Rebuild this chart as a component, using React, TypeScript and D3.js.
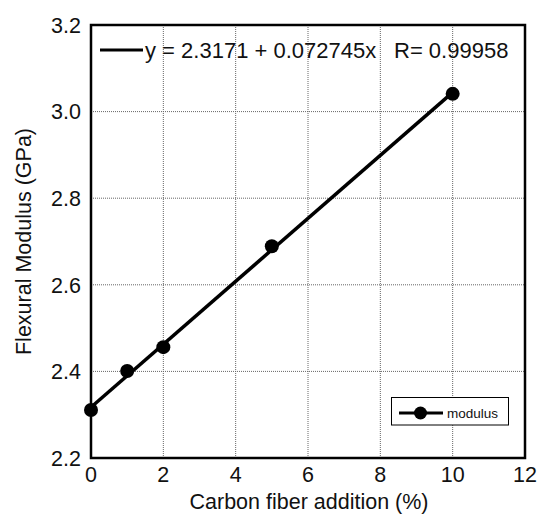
import React from "react";
import * as d3 from "d3";

const carbonFiber = [0, 1, 2, 5, 10];
const modulus = [2.311, 2.401, 2.456, 2.689, 3.041];
const xTicks = [0, 2, 4, 6, 8, 10, 12];
const yTicks = [2.2, 2.4, 2.6, 2.8, 3.0, 3.2];
const fitIntercept = 2.3171;
const fitSlope = 0.072745;
const fitLabel = "y = 2.3171 + 0.072745x";
const rLabel = "R= 0.99958";
const seriesName = "modulus";
const xTitle = "Carbon fiber addition (%)";
const yTitle = "Flexural Modulus (GPa)";

const W = 540;
const H = 515;
const M = { left: 91, right: 525, top: 25, bottom: 458 };
const FONT = "'Liberation Sans', Arial, sans-serif";

export default function App() {
  const x = d3.scaleLinear().domain([0, 12]).range([M.left, M.right]);
  const y = d3.scaleLinear().domain([2.2, 3.2]).range([M.bottom, M.top]);
  const pts = carbonFiber.map((c, i) => [c, modulus[i]] as [number, number]);
  const line = d3
    .line<[number, number]>()
    .x((d) => x(d[0]))
    .y((d) => y(d[1]));
  const fitPts: [number, number][] = [0, 10].map((c) => [c, fitIntercept + fitSlope * c]);

  return (
    <svg
      width={W}
      height={H}
      style={{ position: "absolute", left: 0, top: 0, background: "#fff" }}
      fontFamily={FONT}
    >
      <rect x={0} y={0} width={W} height={H} fill="#fff" />
      {xTicks.slice(1, -1).map((t) => (
        <line
          key={"gx" + t}
          x1={x(t)}
          x2={x(t)}
          y1={M.top}
          y2={M.bottom}
          stroke="#666"
          strokeWidth={1}
          strokeDasharray="1,1"
        />
      ))}
      {yTicks.slice(1, -1).map((t) => (
        <line
          key={"gy" + t}
          x1={M.left}
          x2={M.right}
          y1={y(t)}
          y2={y(t)}
          stroke="#666"
          strokeWidth={1}
          strokeDasharray="1,1"
        />
      ))}
      <path d={line(fitPts) || ""} fill="none" stroke="#000" strokeWidth={3.5} />
      {pts.map((p, i) => (
        <circle key={i} cx={x(p[0])} cy={y(p[1])} r={7} fill="#000" />
      ))}
      <rect
        x={M.left}
        y={M.top}
        width={M.right - M.left}
        height={M.bottom - M.top}
        fill="none"
        stroke="#000"
        strokeWidth={2.5}
      />
      {xTicks.map((t) => (
        <text key={"xt" + t} x={x(t)} y={482} fontSize={21.5} textAnchor="middle" fill="#111">
          {t}
        </text>
      ))}
      {yTicks.map((t) => (
        <text
          key={"yt" + t}
          x={81}
          y={y(t)}
          dy="0.36em"
          fontSize={21.5}
          textAnchor="end"
          fill="#111"
        >
          {t.toFixed(1)}
        </text>
      ))}
      <text x={(M.left + M.right) / 2 + 1} y={509} fontSize={21.5} textAnchor="middle" fill="#111">
        {xTitle}
      </text>
      <text
        transform={`translate(31, ${(M.top + M.bottom) / 2}) rotate(-90)`}
        fontSize={21.5}
        textAnchor="middle"
        fill="#111"
      >
        {yTitle}
      </text>
      <line x1={100} x2={143} y1={50} y2={50} stroke="#000" strokeWidth={3} />
      <text x={145} y={58} fontSize={22} fill="#111">
        {fitLabel}
      </text>
      <text x={394} y={58} fontSize={22} fill="#111">
        {rLabel}
      </text>
      <rect x={391.5} y={397.5} width={117} height={27.5} fill="#fff" stroke="#000" strokeWidth={1} />
      <line x1={399} x2={443} y1={413} y2={413} stroke="#000" strokeWidth={3} />
      <circle cx={420.5} cy={413} r={6.5} fill="#000" />
      <text x={447} y={418} fontSize={13.5} fill="#111">
        {seriesName}
      </text>
    </svg>
  );
}
